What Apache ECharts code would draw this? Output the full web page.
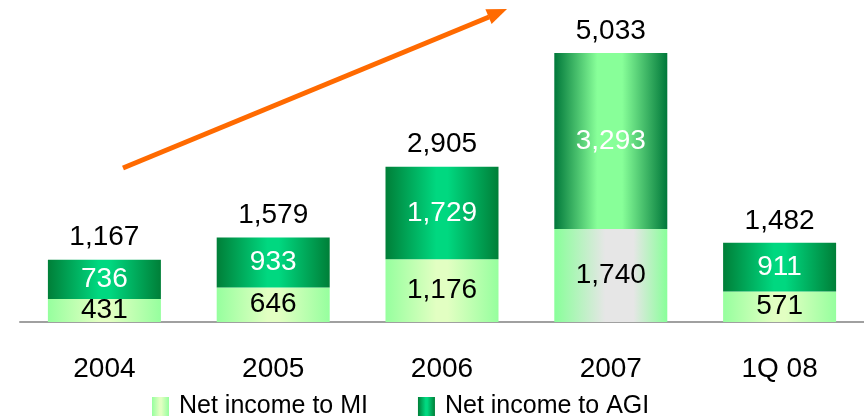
<!DOCTYPE html>
<html>
<head>
<meta charset="utf-8">
<script src="https://cdn.jsdelivr.net/npm/echarts@6/dist/echarts.min.js"></script>
<style>
  html, body { margin: 0; padding: 0; background: #fff; }
  #chart { width: 864px; height: 419px; }
</style>
</head>
<body>
<div id="chart"></div>
<script>
// data
var years = ['2004', '2005', '2006', '2007', '1Q 08'];
var incomeMI = [431, 646, 1176, 1740, 571];
var incomeAGI = [736, 933, 1729, 3293, 911];
var totals = [1167, 1579, 2905, 5033, 1482];

// horizontal gradients like the slide
function hGrad(edge, mid, a, b) {
    return new echarts.graphic.LinearGradient(0, 0, 1, 0, [
        {offset: 0, color: edge},
        {offset: a, color: mid},
        {offset: b, color: mid},
        {offset: 1, color: edge}
    ]);
}
var miColor = hGrad('#96ff9e', '#e2ffc2', 0.45, 0.55);
var agiColor = hGrad('#007f38', '#00d880', 0.45, 0.55);
var miHi = hGrad('#88ff99', '#e6e6e6', 0.45, 0.7);    // 2007 is highlighted
var agiHi = hGrad('#00783a', '#88ff99', 0.38, 0.6);

function fmt(v) { return v.toLocaleString('en-US'); }

var chart = echarts.init(document.getElementById('chart'));
var option = {
    backgroundColor: '#fff',
    animation: false,
    textStyle: {fontFamily: 'Liberation Sans, Arial, sans-serif'},
    grid: {left: 20, right: 0, top: 53, bottom: 97},
    legend: {
        left: 152,
        top: 394,
        padding: 0,
        icon: 'rect',
        itemWidth: 17,
        itemHeight: 19,
        itemGap: 50,
        textStyle: {fontSize: 25, color: '#000', padding: [0, 0, 0, 5]},
        data: ['Net income to MI', 'Net income to AGI']
    },
    xAxis: {
        type: 'category',
        data: years,
        axisLine: {lineStyle: {color: '#a0a0a0', width: 2}},
        axisTick: {show: false},
        axisLabel: {fontSize: 28, color: '#000', margin: 33}
    },
    yAxis: {
        type: 'value',
        min: 0,
        max: 5033,
        show: false
    },
    series: [
        {
            name: 'Net income to MI',
            type: 'bar',
            stack: 'ni',
            barWidth: 113,
            itemStyle: {color: miColor},
            label: {show: true, position: 'inside', fontSize: 28, color: '#000',
                formatter: function (p) { return fmt(p.value); }},
            data: incomeMI.map(function (v, i) {
                return i === 3 ? {value: v, itemStyle: {color: miHi}} : v;
            })
        },
        {
            name: 'Net income to AGI',
            type: 'bar',
            stack: 'ni',
            itemStyle: {color: agiColor},
            label: {show: true, position: 'inside', fontSize: 28, color: '#fff',
                formatter: function (p) { return fmt(p.value); }},
            data: incomeAGI.map(function (v, i) {
                return i === 3 ? {value: v, itemStyle: {color: agiHi}} : v;
            })
        },
        {
            // zero-height bar to carry the total label
            name: 'total',
            type: 'bar',
            stack: 'ni',
            itemStyle: {color: 'transparent'},
            label: {show: true, position: 'top', distance: 8, fontSize: 28, color: '#000',
                formatter: function (p) { return fmt(totals[p.dataIndex]); }},
            data: totals.map(function () { return 0; })
        }
    ],
    graphic: [
        {
            type: 'line',
            shape: {x1: 123, y1: 168, x2: 489, y2: 17},
            style: {stroke: '#ff6a00', lineWidth: 5}
        },
        {
            type: 'polygon',
            shape: {points: [[507, 9], [491.6, 24.1], [485.4, 9.3]]},
            style: {fill: '#ff6a00'}
        }
    ]
};
chart.setOption(option);
</script>
</body>
</html>
